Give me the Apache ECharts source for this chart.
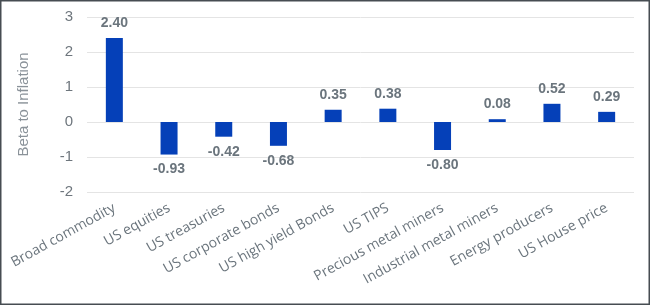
<!DOCTYPE html>
<html>
<head>
<meta charset="utf-8">
<script src="https://cdn.jsdelivr.net/npm/echarts@6/dist/echarts.min.js"></script>
<style>
html,body{margin:0;padding:0;background:#fff;}
#c{width:650px;height:305px;}
</style>
</head>
<body>
<div id="c"></div>
<script>
const categories = ['Broad commodity','US equities','US treasuries','US corporate bonds','US high yield Bonds','US TIPS','Precious metal miners','Industrial metal miners','Energy producers','US House price'];
const betaValues = [2.40,-0.93,-0.42,-0.68,0.35,0.38,-0.80,0.08,0.52,0.29];
const yTicks = [-2,-1,0,1,2,3];

const chart = echarts.init(document.getElementById('c'), null, {renderer:'canvas'});
chart.setOption({
  animation:false,
  graphic:[{type:'rect',shape:{x:0.75,y:0.75,width:648.5,height:303.5},style:{fill:'none',stroke:'#474d52',lineWidth:1.5},z:100}],
  grid:{left:87,right:16,top:17,bottom:113},
  xAxis:{
    type:'category',data:categories,
    axisLine:{show:false},axisTick:{show:false},
    axisLabel:{interval:0,rotate:29,margin:15,color:'#6b757d',fontSize:14,fontFamily:'Open Sans'}
  },
  yAxis:{
    type:'value',min:yTicks[0],max:yTicks[yTicks.length-1],interval:1,
    name:'Beta to Inflation',nameLocation:'middle',nameGap:56,
    nameTextStyle:{color:'#8a9299',fontSize:15,fontFamily:'Liberation Sans'},
    axisLine:{show:false},axisTick:{show:false},
    axisLabel:{color:'#6e767d',fontSize:15,fontFamily:'Liberation Sans',margin:14},
    splitLine:{lineStyle:{color:'#e4e4e4',width:1}}
  },
  series:[{
    type:'bar',barWidth:17,
    itemStyle:{color:'#0540b8'},
    data:betaValues.map(v=>({value:v,label:{position:v>=0?'top':'bottom'}})),
    label:{show:true,distance:8,color:'#6b757d',fontWeight:'bold',fontSize:14,fontFamily:'Liberation Sans',
      formatter:p=>p.value.toFixed(2)}
  }]
});
</script>
</body>
</html>
